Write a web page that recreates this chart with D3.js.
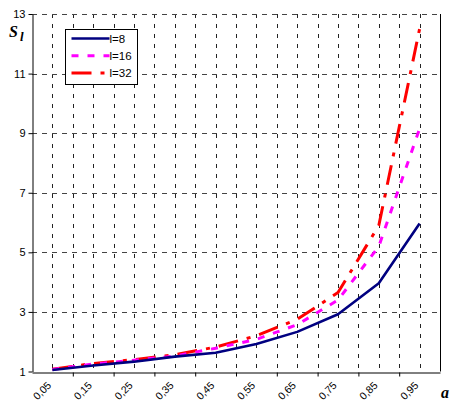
<!DOCTYPE html>
<html lang="en">
<head>
<meta charset="UTF-8">
<title>S_l vs a</title>
<script src="https://d3js.org/d3.v7.min.js"></script>
<style>
  body { margin: 0; background: #fff; }
  svg { display: block; }
  .axis text { font-family: "Liberation Sans", Arial, sans-serif; font-size: 11px; fill: #000; }
  .axis path, .axis line { stroke: #000; }
</style>
</head>
<body>
<script>
var w = 450;
var h = 403;

// data
var categories = ["0,05", "0,15", "0,25", "0,35", "0,45", "0,55", "0,65", "0,75", "0,85", "0,95"];
var aValues = [0.05, 0.15, 0.25, 0.35, 0.45, 0.55, 0.65, 0.75, 0.85, 0.95];
var l8 = [1.05, 1.2, 1.33, 1.5, 1.63, 1.92, 2.33, 2.92, 3.96, 5.97];
var l16 = [1.07, 1.25, 1.38, 1.52, 1.78, 2.08, 2.57, 3.4, 5.2, 9.15];
var l32 = [1.08, 1.27, 1.4, 1.56, 1.82, 2.2, 2.75, 3.65, 5.9, 12.5];
var seriesNames = ["l=8", "l=16", "l=32"];
var yTicks = [1, 3, 5, 7, 9, 11, 13];
var xTicks = [0.1, 0.2, 0.3, 0.4, 0.5, 0.6, 0.7, 0.8, 0.9];

var pLeft = 32, pRight = 440, pTop = 14, pBottom = 371.5;

var xScale = d3.scaleLinear().domain([0, 1]).range([pLeft, pRight]);
var yScale = d3.scaleLinear().domain([1, 13]).range([pBottom, pTop]);

var svg = d3.select("body").append("svg")
    .attr("width", w)
    .attr("height", h);

// vertical dashed grid (every 0.05)
var gridX = d3.range(1, 20).map(function (i) { return i * 0.05; });
svg.append("g").selectAll("line")
    .data(gridX)
    .enter()
    .append("line")
    .attr("x1", function (d) { return Math.round(xScale(d)) + 0.5; })
    .attr("x2", function (d) { return Math.round(xScale(d)) + 0.5; })
    .attr("y1", pTop)
    .attr("y2", pBottom)
    .attr("stroke", "#222")
    .attr("stroke-dasharray", "4,6");

// horizontal dashed grid
svg.append("g").selectAll("line")
    .data(yTicks.slice(1))
    .enter()
    .append("line")
    .attr("x1", pLeft)
    .attr("x2", pRight)
    .attr("y1", function (d) { return Math.round(yScale(d)) + 0.5; })
    .attr("y2", function (d) { return Math.round(yScale(d)) + 0.5; })
    .attr("stroke", "#444")
    .attr("stroke-dasharray", "5,5");

// right border
svg.append("line")
    .attr("x1", pRight + 0.5).attr("x2", pRight + 0.5)
    .attr("y1", pTop).attr("y2", pBottom)
    .attr("stroke", "#000");

// y axis
svg.append("g")
    .attr("class", "axis")
    .attr("transform", "translate(" + (pLeft + 0.5) + ",0)")
    .call(d3.axisLeft(yScale).tickValues(yTicks).tickSize(4).tickPadding(3).tickSizeOuter(0));

// x axis
svg.append("g")
    .attr("class", "axis")
    .attr("transform", "translate(0," + (Math.round(pBottom) + 0.5) + ")")
    .call(d3.axisBottom(xScale).tickValues(xTicks).tickSize(4).tickFormat("").tickSizeOuter(0));

// rotated category labels
svg.append("g").selectAll("text")
    .data(categories)
    .enter()
    .append("text")
    .text(function (d) { return d; })
    .attr("transform", function (d, i) {
        return "translate(" + (xScale(aValues[i]) - 0.5) + ",386) rotate(-45)";
    })
    .attr("text-anchor", "end")
    .attr("font-family", "Liberation Sans, Arial, sans-serif")
    .attr("font-size", "10.5px");

// lines
var lineGen = function (vals) {
    return d3.line()
        .x(function (d, i) { return xScale(aValues[i]); })
        .y(function (d) { return yScale(d); })(vals);
};

var styles = [
    { data: l8, color: "#000080", width: 2.6, dash: null },
    { data: l16, color: "#FF00FF", width: 3, dash: "7,9" },
    { data: l32, color: "#FF0000", width: 3, dash: "20,9,4,9" }
];

svg.append("g").selectAll("path")
    .data(styles.slice().reverse())
    .enter()
    .append("path")
    .attr("d", function (d) { return lineGen(d.data); })
    .attr("fill", "none")
    .attr("stroke", function (d) { return d.color; })
    .attr("stroke-width", function (d) { return d.width; })
    .attr("stroke-dasharray", function (d) { return d.dash; })
    .attr("stroke-linejoin", "round");

// legend
var legend = svg.append("g").attr("transform", "translate(65.5,29.5)");
legend.append("rect")
    .attr("width", 72)
    .attr("height", 55)
    .attr("fill", "#fff")
    .attr("stroke", "#000");

var items = legend.selectAll("g.item")
    .data(styles)
    .enter()
    .append("g")
    .attr("class", "item")
    .attr("transform", function (d, i) { return "translate(0," + (9 + i * 17.3) + ")"; });

items.append("line")
    .attr("x1", 6).attr("x2", 44)
    .attr("stroke", function (d) { return d.color; })
    .attr("stroke-width", function (d) { return d.width; })
    .attr("stroke-dasharray", function (d) { return d.dash; });

items.append("text")
    .text(function (d, i) { return seriesNames[i]; })
    .attr("x", 44)
    .attr("y", 4)
    .attr("font-family", "Liberation Sans, Arial, sans-serif")
    .attr("font-size", "11.5px");

// axis titles
var yTitle = svg.append("text")
    .attr("x", 9)
    .attr("y", 37)
    .attr("font-family", "Liberation Serif, Times New Roman, serif")
    .attr("font-style", "italic")
    .attr("font-weight", "bold")
    .attr("font-size", "16px");
yTitle.append("tspan").text("S");
yTitle.append("tspan").text("l").attr("dx", 2).attr("dy", 4).attr("font-size", "13px");

svg.append("text")
    .attr("x", 441)
    .attr("y", 398)
    .attr("font-family", "Liberation Serif, Times New Roman, serif")
    .attr("font-style", "italic")
    .attr("font-weight", "bold")
    .attr("font-size", "16px")
    .text("a");
</script>
</body>
</html>
